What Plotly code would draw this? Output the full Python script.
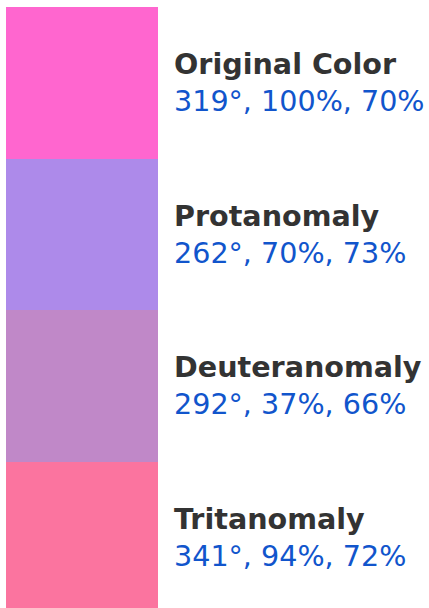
import plotly.graph_objects as go

labels = ["Original Color", "Protanomaly", "Deuteranomaly", "Tritanomaly"]
hues = [319, 262, 292, 341]
sats = [100, 70, 37, 94]
lights = [70, 73, 66, 72]

colors = [f"hsl({h},{s}%,{l}%)" for h, s, l in zip(hues, sats, lights)]

fig = go.Figure()
fig.add_trace(go.Bar(
    y=labels,
    x=[1] * len(labels),
    orientation="h",
    marker=dict(color=colors, line=dict(width=0)),
    width=1,
    hoverinfo="skip",
))

for lab, h, s, l in zip(labels, hues, sats, lights):
    fig.add_annotation(
        x=1, y=lab, xref="x", yref="y",
        xanchor="left", yanchor="middle", xshift=14, align="left",
        showarrow=False,
        text=f"<b>{lab}</b><br><span style='color:#1155cc'>{h}°, {s}%, {l}%</span>",
        font=dict(family="DejaVu Sans", size=28.6, color="#333333"),
    )

fig.update_layout(
    width=429, height=608,
    margin=dict(l=6, r=0, t=7, b=0),
    paper_bgcolor="white", plot_bgcolor="white",
    bargap=0, showlegend=False,
    xaxis=dict(range=[0, 423 / 152], visible=False, fixedrange=True),
    yaxis=dict(range=[-0.5 + 601 / 151.5, -0.5], visible=False, categoryorder="array",
               categoryarray=labels, fixedrange=True),
)

fig.write_html("out.html", config={"displayModeBar": False},
               post_script="document.body.style.margin='0';document.body.style.overflow='hidden';")
